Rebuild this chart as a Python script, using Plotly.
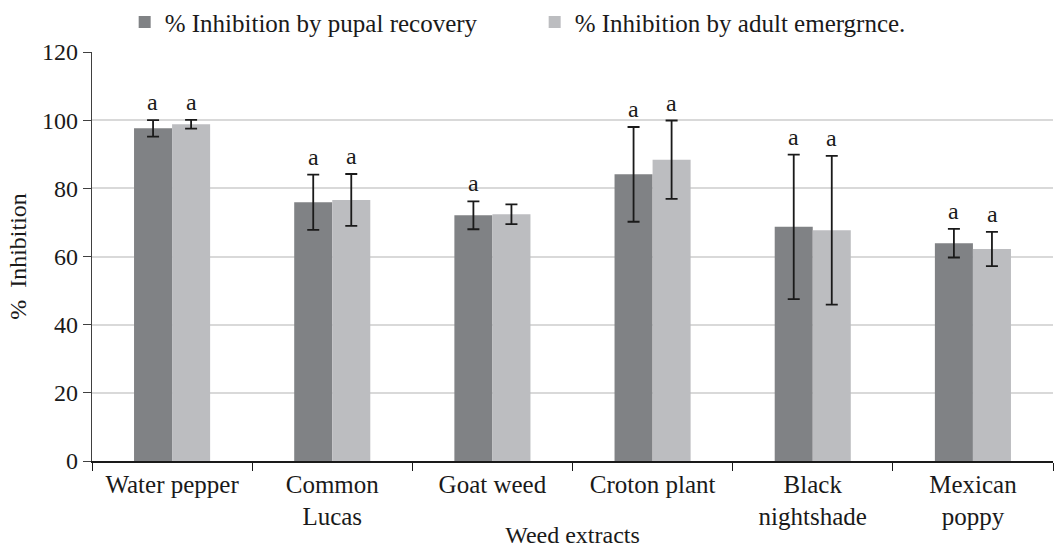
import plotly.graph_objects as go

extracts = ["Water pepper", "Common<br>Lucas", "Goat weed", "Croton plant",
            "Black<br>nightshade", "Mexican<br>poppy"]

pupal = [97.6, 75.9, 72.1, 84.1, 68.7, 63.9]
pupal_err = [2.4, 8.1, 4.1, 13.9, 21.2, 4.2]
pupal_sig = ["a", "a", "a", "a", "a", "a"]

adult = [98.8, 76.6, 72.4, 88.4, 67.7, 62.2]
adult_err = [1.3, 7.6, 2.9, 11.5, 21.8, 5.0]
adult_sig = ["a", "a", "", "a", "a", "a"]

dark = "#808285"
light = "#BCBDC0"
serif = "Liberation Serif"
fs = 24

fig = go.Figure()
fig.add_trace(go.Bar(
    name="% Inhibition by pupal recovery", x=extracts, y=pupal,
    marker=dict(color=dark, line=dict(width=0)),
    error_y=dict(type="data", array=pupal_err, color="#1a1a1a", thickness=1.8, width=6),
    offsetgroup="p",
))
fig.add_trace(go.Bar(
    name="% Inhibition by adult emergrnce.", x=extracts, y=adult,
    marker=dict(color=light, line=dict(width=0)),
    error_y=dict(type="data", array=adult_err, color="#1a1a1a", thickness=1.8, width=6),
    offsetgroup="a",
))

# significance letters above each error bar
for i, cat in enumerate(extracts):
    for vals, errs, sig, shift in ((pupal, pupal_err, pupal_sig, -0.12),
                                   (adult, adult_err, adult_sig, 0.12)):
        if sig[i]:
            fig.add_annotation(
                x=i + shift, y=vals[i] + errs[i], xref="x", yref="y",
                text=sig[i], showarrow=False, yanchor="bottom", yshift=3,
                font=dict(family=serif, size=fs, color="#1a1a1a"),
            )

fig.update_layout(
    width=1057, height=548,
    margin=dict(l=92, r=4, t=52, b=87, autoexpand=False),
    paper_bgcolor="white", plot_bgcolor="white",
    font=dict(family=serif, size=fs, color="#1a1a1a"),
    barmode="group", bargap=0.525, bargroupgap=0,
    showlegend=True,
    legend=dict(orientation="h", x=0.034, y=1.073, xanchor="left", yanchor="middle",
                font=dict(family=serif, size=25), itemwidth=30, entrywidth=365,
                bgcolor="rgba(0,0,0,0)"),
)

fig.update_xaxes(
    type="category", tickson="boundaries", ticks="outside", ticklen=8,
    tickcolor="#1a1a1a", showline=True, linecolor="#1a1a1a", linewidth=1.5,
    showgrid=False, tickangle=0,
    title=dict(text="Weed extracts", standoff=0, font=dict(family=serif, size=fs)),
    tickfont=dict(family=serif, size=25),
    range=[-0.5, 5.5],
)
fig.update_yaxes(
    range=[0, 120], dtick=20, ticks="outside", ticklen=8, tickcolor="#404040",
    showline=True, linecolor="#404040", linewidth=1.2,
    showgrid=True, gridcolor="#D9D9D9", gridwidth=1.5,
    zeroline=False, tickfont=dict(family=serif, size=fs),
    title=dict(text="%  Inhibition", standoff=8, font=dict(family=serif, size=fs)),
)

fig.write_html("out.html")
